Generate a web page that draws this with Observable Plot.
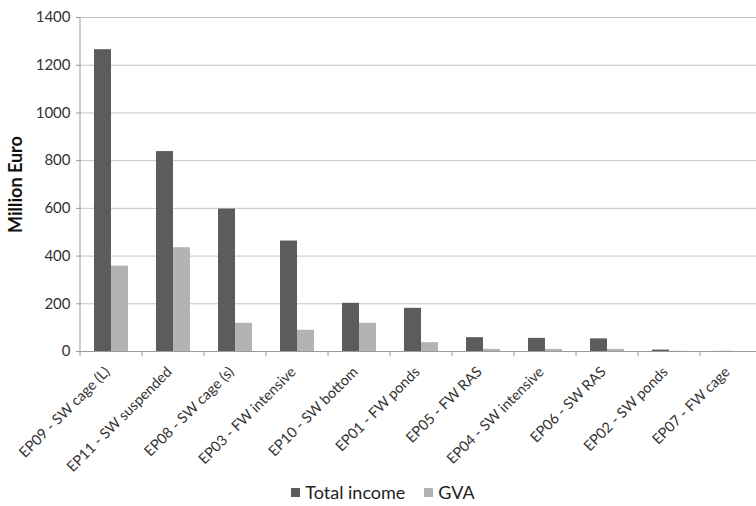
<!DOCTYPE html>
<html>
<head>
<meta charset="utf-8">
<script src="https://cdn.jsdelivr.net/npm/d3@7"></script>
<script src="https://cdn.jsdelivr.net/npm/@observablehq/plot@0.6"></script>
<style>
  body { margin: 0; background: #fff; overflow: hidden; font-family: Lato, "Open Sans", sans-serif; }
  #legend { display: flex; justify-content: center; align-items: center; gap: 19px; font-size: 18px; color: #222; padding-top: 5px; padding-left: 10px; }
  #legend span.item { display: inline-flex; align-items: center; gap: 5px; }
  #legend span.sw { display: inline-block; width: 9px; height: 9px; }
</style>
</head>
<body>
<div id="chart"></div>
<div id="legend"></div>
<script>
const categories = [
  "EP09 - SW cage (L)", "EP11 - SW suspended", "EP08 - SW cage (s)", "EP03 - FW intensive",
  "EP10 - SW bottom", "EP01 - FW ponds", "EP05 - FW RAS", "EP04 - SW intensive",
  "EP06 - SW RAS", "EP02 - SW ponds", "EP07 - FW cage"
];
const series = ["Total income", "GVA"];
const totalIncome = [1265, 838, 597, 463, 202, 181, 58, 55, 53, 6, 0.5];
const gva = [358, 435, 118, 89, 118, 37, 9, 9, 9, 1, 0];
const yTicks = [0, 200, 400, 600, 800, 1000, 1200, 1400];
const yLabel = "Million Euro";
const colors = ["#5c5c5c", "#b3b3b3"];

const rows = [];
categories.forEach((c, i) => {
  rows.push({category: c, series: series[0], value: totalIncome[i]});
  rows.push({category: c, series: series[1], value: gva[i]});
});

const axisGray = "#9a9a9a";
const chart = Plot.plot({
  width: 756,
  height: 476,
  marginTop: 17,
  marginBottom: 125,
  marginLeft: 79,
  marginRight: -7,
  style: {fontFamily: "Lato, 'Open Sans', sans-serif", fontSize: "15px", color: "#333"},
  fx: {domain: categories, padding: 0, label: null},
  x: {domain: series, paddingInner: 0, paddingOuter: 0.82, axis: null},
  y: {domain: [0, 1400], label: null},
  color: {domain: series, range: colors},
  marks: [
    Plot.ruleY(yTicks.slice(1), {stroke: "#c4c4c4", strokeWidth: 1}),
    Plot.barY(rows, {fx: "category", x: "series", y: "value", fill: "series"}),
    Plot.ruleY([0], {stroke: axisGray}),
    Plot.axisY({ticks: yTicks, tickFormat: d => String(d), tickSize: 4, tickPadding: 6, stroke: axisGray, fill: "#333", label: null, fontSize: 15}),
    Plot.text([yLabel], {fx: () => categories[0], text: d => d, frameAnchor: "left", textAnchor: "middle", rotate: -90, dx: -64, fontWeight: "bold", fontSize: 18, fill: "#111"}),
    Plot.axisFx({anchor: "bottom", tickRotate: -45, tickSize: 0, tickPadding: 18, dx: -4, label: null, fontSize: 14.5, fill: "#333"})
  ]
});
document.getElementById("chart").appendChild(chart);

// Axis line and category separator ticks from the plot's own scales
const fx = chart.scale("fx");
const ys = chart.scale("y");
const y0 = ys.apply(0), yTop = ys.apply(1400);
const edges = categories.map(c => fx.apply(c));
edges.push(edges[edges.length - 1] + fx.step);
const svg = d3.select(chart);
svg.append("line").attr("x1", edges[0]).attr("x2", edges[0]).attr("y1", yTop).attr("y2", y0).attr("stroke", axisGray);
svg.append("g").selectAll("line").data(edges).join("line")
  .attr("x1", d => d).attr("x2", d => d).attr("y1", y0).attr("y2", y0 + 5).attr("stroke", axisGray);

// Legend
const legend = d3.select("#legend");
series.forEach((s, i) => {
  const item = legend.append("span").attr("class", "item");
  item.append("span").attr("class", "sw").style("background", colors[i]);
  item.append("span").text(s);
});
</script>
</body>
</html>
